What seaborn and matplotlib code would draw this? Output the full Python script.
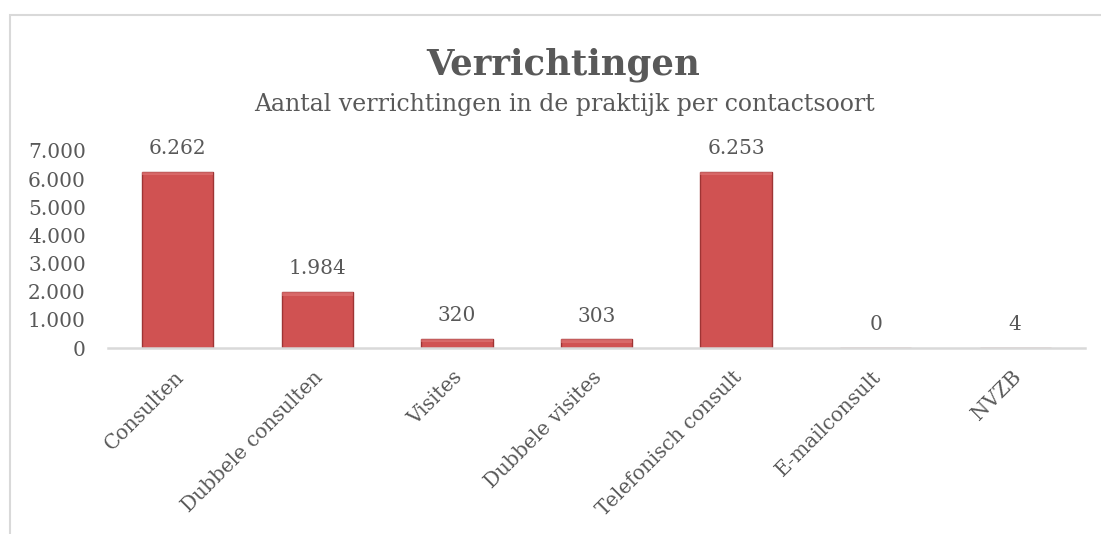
import matplotlib
matplotlib.use("Agg")
import matplotlib.pyplot as plt
import matplotlib.transforms as mtransforms
import seaborn as sns
import pandas as pd
from matplotlib.patches import Rectangle

# chart data
categories = ["Consulten", "Dubbele consulten", "Visites", "Dubbele visites",
              "Telefonisch consult", "E-mailconsult", "NVZB"]
values = [6262, 1984, 320, 303, 6253, 0, 4]
y_ticks = [0, 1000, 2000, 3000, 4000, 5000, 6000, 7000]

title = "Verrichtingen"
subtitle = "Aantal verrichtingen in de praktijk per contactsoort"

text_color = "#595959"
bar_color = "#D05252"
edge_color = "#9E3434"
line_color = "#D9D9D9"


def nl_fmt(v):
    return f"{v:,}".replace(",", ".")


sns.set_theme(style="white")
plt.rcParams["font.family"] = ["DejaVu Serif"]

df = pd.DataFrame({"soort": categories, "aantal": values})

fig = plt.figure(figsize=(11.01, 5.34), dpi=100)
fig.patch.set_facecolor("white")

# outer chart frame (clipped at right/bottom like the screenshot)
fig.patches.append(Rectangle((10 / 1101, -0.1), 1.2, (534 - 15) / 534 + 0.1,
                             transform=fig.transFigure, fill=False,
                             edgecolor=line_color, linewidth=1.5))

ax = fig.add_axes([108 / 1101, 1 - 348 / 534, (1085 - 108) / 1101, (348 - 151) / 534])
sns.barplot(data=df, x="soort", y="aantal", color=bar_color, width=0.51,
            edgecolor=edge_color, linewidth=1.0, saturation=1, ax=ax)

# light bevel on the top of each bar
for p in ax.patches:
    h = p.get_height()
    if h > 0:
        ax.add_patch(Rectangle((p.get_x(), h - min(h, 120)), p.get_width(), min(h, 120),
                               facecolor="#E07A7A", edgecolor="none", alpha=0.6))

ax.set_ylim(0, 7000)
ax.set_yticks(y_ticks)
ax.set_yticklabels([nl_fmt(t) for t in y_ticks], fontsize=14.5, color=text_color)
ax.tick_params(axis="y", length=0, pad=16)
ax.tick_params(axis="x", length=0, pad=14)
shift = mtransforms.ScaledTranslation(-4 / 100, 0, fig.dpi_scale_trans)
for lbl in ax.get_xticklabels():
    lbl.set_rotation(45)
    lbl.set_ha("right")
    lbl.set_rotation_mode("anchor")
    lbl.set_fontsize(14.5)
    lbl.set_color(text_color)
    lbl.set_transform(lbl.get_transform() + shift)
ax.set_xlabel("")
ax.set_ylabel("")

for s in ["top", "right", "left"]:
    ax.spines[s].set_visible(False)
ax.spines["bottom"].set_color(line_color)
ax.spines["bottom"].set_linewidth(1.8)

for i, v in enumerate(values):
    ax.annotate(nl_fmt(v), (i, v), xytext=(0, 10), textcoords="offset points",
                ha="center", va="bottom", fontsize=14.5, color=text_color)

fig.text(563 / 1101, 1 - 65 / 534, title, ha="center", va="center",
         fontsize=25.5, fontweight="bold", color=text_color)
fig.text(565 / 1101, 1 - 104 / 534, subtitle, ha="center", va="center",
         fontsize=17, color=text_color)

fig.savefig("out.png", dpi=100)
